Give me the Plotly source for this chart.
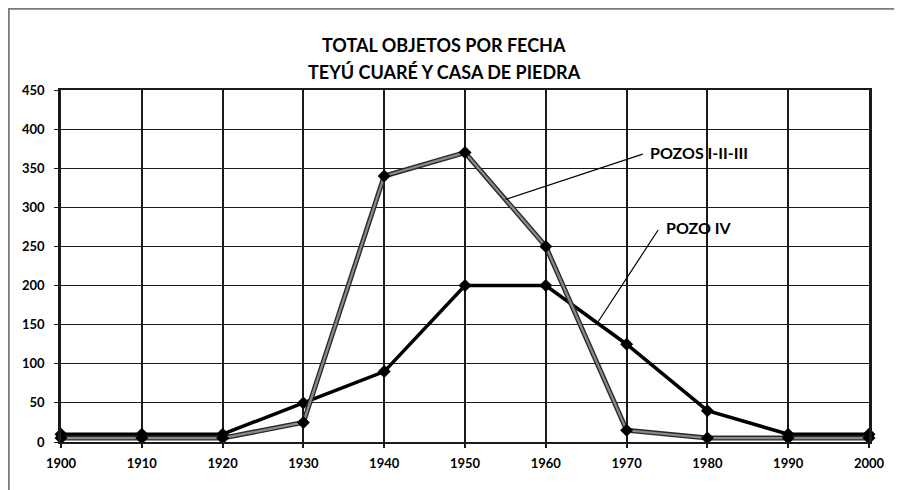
import plotly.graph_objects as go

years = [1900, 1910, 1920, 1930, 1940, 1950, 1960, 1970, 1980, 1990, 2000]
pozos_123 = [5, 5, 5, 25, 340, 370, 250, 15, 5, 5, 5]
pozo_iv = [10, 10, 10, 50, 90, 200, 200, 125, 40, 10, 10]
y_ticks = [0, 50, 100, 150, 200, 250, 300, 350, 400, 450]
title_lines = ["TOTAL OBJETOS POR FECHA", "TEYÚ CUARÉ Y CASA DE PIEDRA"]
label_123 = "POZOS I-II-III"
label_iv = "POZO IV"

FONT = "Lato, 'Open Sans', sans-serif"

# the page body has an 8px margin, so the figure starts at (8, 8) in the window
OFF = 8
W, H = 902 - OFF, 490 - OFF
L, R, T, B = 61 - OFF, 33, 90 - OFF, 48
pw, ph = W - L - R, H - T - B

fig = go.Figure()

# POZO IV (black)
fig.add_trace(go.Scatter(
    x=years, y=pozo_iv, mode="lines+markers",
    line=dict(color="#000000", width=3.5),
    marker=dict(symbol="diamond", size=10, color="#000000"),
    cliponaxis=False, showlegend=False))

# POZOS I-II-III (gray line with dark outline)
fig.add_trace(go.Scatter(
    x=years, y=pozos_123, mode="lines",
    line=dict(color="#2a2a2a", width=5),
    cliponaxis=False, showlegend=False))
fig.add_trace(go.Scatter(
    x=years, y=pozos_123, mode="lines+markers",
    line=dict(color="#8a8a8a", width=2.2),
    marker=dict(symbol="diamond", size=10, color="#000000"),
    cliponaxis=False, showlegend=False))

# leader lines
fig.add_shape(type="line", xref="x", yref="y", x0=1955, y0=310, x1=1972, y1=368,
              line=dict(color="#000000", width=1.2))
fig.add_shape(type="line", xref="x", yref="y", x0=1966.5, y0=154, x1=1973.9, y1=271,
              line=dict(color="#000000", width=1.2))

# outer border (top and left edges visible)
fig.add_shape(type="rect", xref="paper", yref="paper",
              x0=(0.5 - L) / pw, y0=-0.6, x1=1.6, y1=(H - B - 0.5) / ph,
              line=dict(color="#7a7a7a", width=2.5), layer="below")

fig.add_annotation(x=1972.6, y=369.5, xref="x", yref="y", text="<b>" + label_123 + "</b>",
                   showarrow=False, xanchor="left", yanchor="middle",
                   font=dict(family=FONT, size=16, color="#000000"))
fig.add_annotation(x=1974.6, y=273.6, xref="x", yref="y", text="<b>" + label_iv + "</b>",
                   showarrow=False, xanchor="left", yanchor="middle",
                   font=dict(family=FONT, size=16, color="#000000"))

# title lines, positioned in window pixels then converted to paper coords
for txt, px, py in [(title_lines[0], 444, 45), (title_lines[1], 444, 72)]:
    fig.add_annotation(x=(px - OFF - L) / pw, y=(H - B - (py - OFF)) / ph,
                       text="<b>" + txt + "</b>", showarrow=False,
                       xref="paper", yref="paper", xanchor="center", yanchor="middle",
                       font=dict(family=FONT, size=18, color="#000000"))

fig.update_xaxes(
    range=[1900, 2000], tickvals=years, ticktext=[str(v) for v in years],
    showgrid=True, gridcolor="#1a1a1a", gridwidth=1.8,
    showline=True, linecolor="#1a1a1a", linewidth=2, mirror=True,
    ticks="outside", ticklen=4, tickcolor="#1a1a1a", tickwidth=1.5,
    ticklabelstandoff=4,
    tickfont=dict(family=FONT, size=13, color="#000000", weight="bold"),
    zeroline=False, fixedrange=True)
fig.update_yaxes(
    range=[0, 450], tickvals=y_ticks,
    showgrid=True, gridcolor="#1a1a1a", gridwidth=1.3,
    showline=True, linecolor="#1a1a1a", linewidth=2.5, mirror=True,
    ticks="outside", ticklen=4, tickcolor="#1a1a1a", tickwidth=1.3,
    ticklabelstandoff=7,
    tickfont=dict(family=FONT, size=13, color="#000000", weight="bold"),
    zeroline=False, fixedrange=True)

fig.update_layout(
    width=W, height=H,
    margin=dict(l=L, r=R, t=T, b=B, pad=0),
    paper_bgcolor="#ffffff", plot_bgcolor="#ffffff",
    showlegend=False)

fig.write_html("out.html")
